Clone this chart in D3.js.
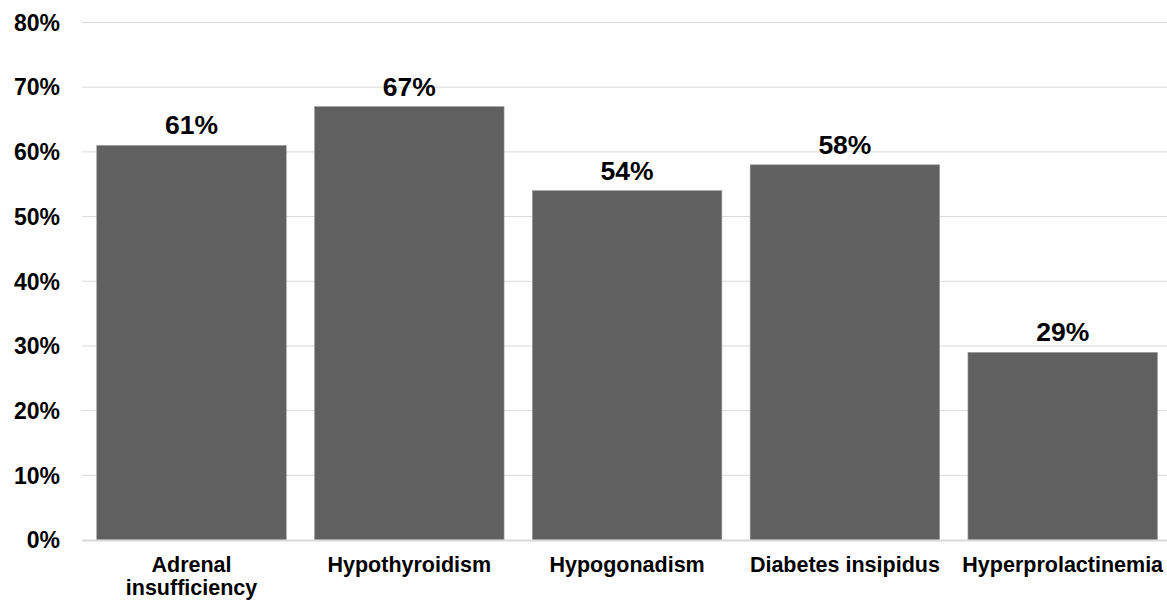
<!DOCTYPE html>
<html>
<head>
<meta charset="utf-8">
<script src="https://cdn.jsdelivr.net/npm/d3@7"></script>
<style>
  html, body { margin: 0; padding: 0; background: #fff; }
  svg { display: block; font-family: "Liberation Sans", Arial, sans-serif; font-weight: bold; }
</style>
</head>
<body>
<svg id="chart" width="1167" height="600"></svg>
<script>
const categories = [
  ["Adrenal", "insufficiency"],
  ["Hypothyroidism"],
  ["Hypogonadism"],
  ["Diabetes insipidus"],
  ["Hyperprolactinemia"],
];
const values = [61, 67, 54, 58, 29];
const yTicks = [0, 10, 20, 30, 40, 50, 60, 70, 80];

const svg = d3.select("#chart");

const x = d3
  .scaleBand()
  .domain(d3.range(categories.length))
  .range([82.6, 1171.6])
  .paddingInner(0.13)
  .paddingOuter(0.065);

const y = d3.scaleLinear().domain([0, 80]).range([540, 22.5]);

// gridlines
svg
  .append("g")
  .selectAll("line")
  .data(yTicks.filter((d) => d > 0))
  .join("line")
  .attr("x1", 82)
  .attr("x2", 1167)
  .attr("y1", (d) => y(d))
  .attr("y2", (d) => y(d))
  .attr("stroke", "#d9d9d9")
  .attr("stroke-width", 1);

// y tick labels
svg
  .append("g")
  .selectAll("text")
  .data(yTicks)
  .join("text")
  .attr("x", 60)
  .attr("y", (d) => y(d))
  .attr("dy", "0.36em")
  .attr("text-anchor", "end")
  .attr("font-size", 23)
  .attr("fill", "#000")
  .text((d) => d + "%");

// bars
svg
  .append("g")
  .selectAll("rect")
  .data(values)
  .join("rect")
  .attr("x", (d, i) => x(i))
  .attr("y", (d) => y(d))
  .attr("width", x.bandwidth())
  .attr("height", (d) => y(0) - y(d))
  .attr("fill", "#606060")
  .attr("stroke", "#9a9a9a")
  .attr("stroke-width", 0.6);

// baseline
svg
  .append("line")
  .attr("x1", 82)
  .attr("x2", 1167)
  .attr("y1", y(0) + 0.5)
  .attr("y2", y(0) + 0.5)
  .attr("stroke", "#d9d9d9")
  .attr("stroke-width", 2);

// value labels
svg
  .append("g")
  .selectAll("text")
  .data(values)
  .join("text")
  .attr("x", (d, i) => x(i) + x.bandwidth() / 2)
  .attr("y", (d) => y(d) - 11)
  .attr("text-anchor", "middle")
  .attr("font-size", 26.5)
  .attr("fill", "#000")
  .text((d) => d + "%");

// category labels
const cat = svg
  .append("g")
  .selectAll("text")
  .data(categories)
  .join("text")
  .attr("x", (d, i) => x(i) + x.bandwidth() / 2)
  .attr("y", 572)
  .attr("text-anchor", "middle")
  .attr("font-size", 21.5)
  .attr("fill", "#000");

cat
  .selectAll("tspan")
  .data((d) => d)
  .join("tspan")
  .attr("x", function () {
    return d3.select(this.parentNode).attr("x");
  })
  .attr("dy", (d, i) => (i === 0 ? 0 : 23))
  .text((d) => d);
</script>
</body>
</html>
